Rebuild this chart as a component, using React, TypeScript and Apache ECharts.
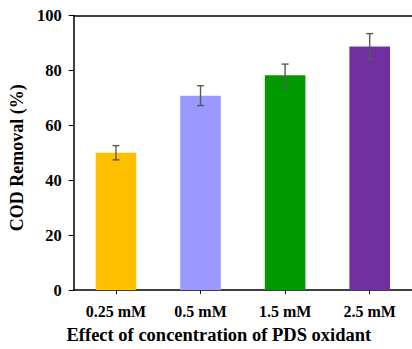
import React, { useEffect, useRef } from "react";
import * as echarts from "echarts";

const categories = ["0.25 mM", "0.5 mM", "1.5 mM", "2.5 mM"];
const removal = [50.0, 70.8, 78.2, 88.7];
const errors = [2.6, 3.6, 4.1, 4.7];
const barColors = ["#FFC000", "#9999FF", "#009900", "#7030A0"];
const yTicks = [0, 20, 40, 60, 80, 100];

const FONT = "Liberation Serif";

export default function App() {
  const ref = useRef<HTMLDivElement>(null);
  useEffect(() => {
    if (!ref.current) return;
    const chart = echarts.init(ref.current, undefined, { renderer: "svg" });
    const errData = categories.map((c, i) => [i, removal[i] - errors[i], removal[i] + errors[i]]);
    chart.setOption({
      animation: false,
      textStyle: { fontFamily: FONT },
      grid: { left: 68, right: 0, top: 15.5, bottom: 56, containLabel: false },
      xAxis: [
        {
          type: "category",
          data: categories,
          axisLine: { lineStyle: { color: "#000", width: 1.5 } },
          axisTick: { show: true, alignWithLabel: true, length: 4, lineStyle: { color: "#000" } },
          axisLabel: {
            color: "#000",
            fontFamily: FONT,
            fontWeight: "bold",
            fontSize: 16,
            margin: 13,
          },
          name: "Effect of concentration of PDS oxidant",
          nameLocation: "middle",
          nameGap: 35,
          nameTextStyle: { color: "#000", fontFamily: FONT, fontWeight: "bold", fontSize: 18.5, padding: [0, 0, 0, -48] },
        },
        {
          type: "category",
          data: categories,
          position: "top",
          axisLine: { show: true, lineStyle: { color: "#000", width: 1.5 } },
          axisTick: { show: false },
          axisLabel: { show: false },
        },
      ],
      yAxis: {
        type: "value",
        min: 0,
        max: 100,
        interval: 20,
        axisLine: { show: true, lineStyle: { color: "#000", width: 1.5 } },
        axisTick: { show: true, length: 5, lineStyle: { color: "#000" } },
        splitLine: { show: false },
        axisLabel: {
          color: "#000",
          fontFamily: FONT,
          fontWeight: "bold",
          fontSize: 16.5,
          margin: 12,
          formatter: (v: number) => (yTicks.includes(v) ? String(v) : ""),
        },
        name: "COD Removal (%)",
        nameLocation: "middle",
        nameGap: 41,
        nameTextStyle: { color: "#000", fontFamily: FONT, fontWeight: "bold", fontSize: 18, padding: [0, 0, 0, -10] },
      },
      series: [
        {
          type: "bar",
          data: removal.map((v, i) => ({ value: v, itemStyle: { color: barColors[i] } })),
          barWidth: "48%",
          xAxisIndex: 0,
        },
        {
          type: "custom",
          xAxisIndex: 0,
          data: errData,
          renderItem: (params: any, api: any) => {
            const x = api.value(0);
            const lo = api.coord([x, api.value(1)]);
            const hi = api.coord([x, api.value(2)]);
            const cap = 3.5;
            const style = { stroke: "#5a5a5a", lineWidth: 1.4 };
            return {
              type: "group",
              children: [
                { type: "line", shape: { x1: lo[0], y1: lo[1], x2: hi[0], y2: hi[1] }, style },
                { type: "line", shape: { x1: lo[0] - cap, y1: lo[1], x2: lo[0] + cap, y2: lo[1] }, style },
                { type: "line", shape: { x1: hi[0] - cap, y1: hi[1], x2: hi[0] + cap, y2: hi[1] }, style },
              ],
            };
          },
          z: 10,
        },
      ],
    });
    return () => chart.dispose();
  }, []);
  return <div ref={ref} style={{ width: 412, height: 349, position: "absolute", left: 0, top: 0 }} />;
}
